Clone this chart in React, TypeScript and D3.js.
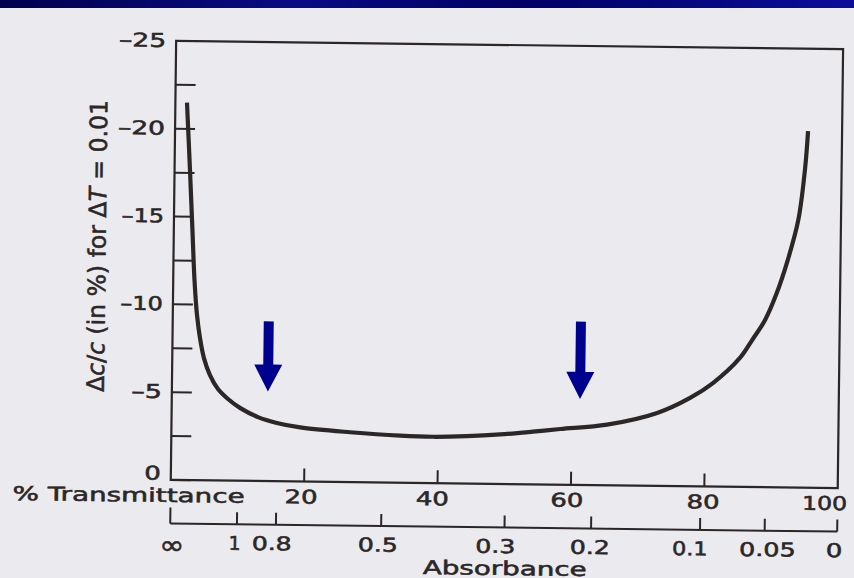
import React, { useEffect, useRef } from 'react';
import * as d3 from 'd3';

// curve: % transmittance vs relative concentration error (%)
const transmittance = [1.74, 2.31, 2.79, 3.19, 3.63, 4.12, 4.75, 5.68, 6.91, 8.43, 10.24, 12.95, 15.8, 19.3, 26.8, 34.3, 39.2, 44.3, 49.3, 54.2, 58.3, 65.3, 72.8, 77.7, 81.1, 85.1, 86.9, 88.8, 90.5, 92.1, 93.6, 94.5, 94.9];
const relError = [-21.5, -17.67, -14.25, -11.4, -9.41, -8.1, -6.96, -6.0, -5.21, -4.65, -4.15, -3.64, -3.32, -3.08, -2.84, -2.68, -2.64, -2.7, -2.82, -3.0, -3.17, -3.45, -4.15, -5.03, -5.89, -7.34, -8.37, -9.52, -11.06, -12.96, -15.24, -18.09, -20.31];

const yTicks = [0, -2.5, -5, -7.5, -10, -12.5, -15, -17.5, -20, -22.5];
const yLabels = [0, -5, -10, -15, -20, -25];
const tTicks = [20, 40, 60, 80, 100];
const tLabelShift = [-3, -5, -4, -1, -13];
const absTicks = [Infinity, 1, 0.8, 0.5, 0.3, 0.2, 0.1, 0.05, 0];
const absLabels = ['∞', '1', '0.8', '0.5', '0.3', '0.2', '0.1', '0.05', '0'];
const absLabelShift = [2, -2, -4, -3, -9, -1, -10, 3, -3];

// blue arrows: where they point (% T) and the error level of tip and tail
const arrowT = [14.4, 61.2];
const arrowTip = [-5.1, -4.9];
const arrowTail = [-9.1, -9.3];

// rough glyph widths of the wide face in the scan
const labelWidth = (s: string) =>
    s.split('').reduce((w, c) => w + (c === '.' ? 7 : c === '1' ? 12 : c === '–' ? 14 : 16.5), 0);

const App = () => {
    const svgRef = useRef<SVGSVGElement>(null);

    useEffect(() => {
        const svg = d3.select(svgRef.current);
        svg.selectAll('*').remove();

        const width = 854;
        const height = 578;
        const ink = '#2b2727';
        const font = "'DejaVu Sans', sans-serif";

        const x = d3.scaleLinear().domain([0, 100]).range([173, 840]);
        const y = d3.scaleLinear().domain([0, -25]).range([484, 45]);
        const absX = (a: number) => (a === Infinity ? x(0) : x(100 * Math.pow(10, -a)));
        const absY = 527.5;

        // page + slide band
        const defs = svg.append('defs');
        const grad = defs.append('linearGradient').attr('id', 'band').attr('x1', 0).attr('x2', 1);
        grad.append('stop').attr('offset', '0%').attr('stop-color', '#00004e');
        grad.append('stop').attr('offset', '35%').attr('stop-color', '#0a0a86');
        grad.append('stop').attr('offset', '60%').attr('stop-color', '#000066');
        grad.append('stop').attr('offset', '100%').attr('stop-color', '#0c0c9a');
        svg.append('rect').attr('width', width).attr('height', height).attr('fill', '#ebeaee');

        // the scanned page sits slightly askew
        const g = svg.append('g').attr('transform', 'rotate(0.7 505 300)');

        const txt = (sel: any) => sel
            .attr('font-family', font).attr('fill', ink)
            .attr('stroke', ink).attr('stroke-width', 0.55)
            .attr('lengthAdjust', 'spacingAndGlyphs');

        // frame
        g.append('rect')
            .attr('x', x(0)).attr('y', y(-25))
            .attr('width', x(100) - x(0)).attr('height', y(0) - y(-25))
            .attr('fill', 'none').attr('stroke', ink).attr('stroke-width', 2.2);

        // y ticks (inward) and labels
        g.append('g').selectAll('line').data(yTicks).join('line')
            .attr('x1', x(0)).attr('x2', x(0) + 20)
            .attr('y1', d => y(d)).attr('y2', d => y(d))
            .attr('stroke', ink).attr('stroke-width', 2);
        g.append('g').selectAll('text').data(yLabels).join('text')
            .call(txt)
            .attr('x', 163).attr('y', d => (d === 0 ? y(d) : y(d) + 6))
            .attr('text-anchor', 'end')
            .attr('font-size', 19)
            .attr('textLength', d => labelWidth(d === 0 ? '0' : '–' + Math.abs(d)))
            .text(d => (d === 0 ? '0' : '–' + Math.abs(d)));

        // y title
        const yt = g.append('text')
            .call(txt)
            .attr('transform', 'translate(105,251) rotate(-90)')
            .attr('text-anchor', 'middle')
            .attr('font-size', 24)
            .attr('textLength', 292);
        yt.append('tspan').text('Δ');
        yt.append('tspan').attr('font-style', 'italic').text('c');
        yt.append('tspan').text('/');
        yt.append('tspan').attr('font-style', 'italic').text('c');
        yt.append('tspan').text(' (in %) for Δ');
        yt.append('tspan').attr('font-style', 'italic').text('T');
        yt.append('tspan').text(' = 0.01');

        // transmittance ticks and labels
        g.append('g').selectAll('line').data(tTicks.filter(d => d < 100)).join('line')
            .attr('x1', d => x(d)).attr('x2', d => x(d))
            .attr('y1', y(0)).attr('y2', y(0) - 13)
            .attr('stroke', ink).attr('stroke-width', 2);
        g.append('g').selectAll('text').data(tTicks).join('text')
            .call(txt)
            .attr('x', (d, i) => x(d) + tLabelShift[i])
            .attr('y', 506)
            .attr('text-anchor', 'middle')
            .attr('font-size', 19)
            .attr('textLength', d => labelWidth(String(d)))
            .text(d => d);
        g.append('text')
            .call(txt)
            .attr('x', 15).attr('y', 506)
            .attr('font-size', 19)
            .attr('textLength', 232)
            .text('% Transmittance');

        // absorbance axis
        g.append('line')
            .attr('x1', x(0)).attr('x2', x(100)).attr('y1', absY).attr('y2', absY)
            .attr('stroke', ink).attr('stroke-width', 2);
        g.append('g').selectAll('line').data(absTicks).join('line')
            .attr('x1', d => absX(d)).attr('x2', d => absX(d))
            .attr('y1', absY).attr('y2', d => (d === Infinity ? absY - 16 : absY - 12))
            .attr('stroke', ink).attr('stroke-width', 2);
        g.append('g').selectAll('text').data(absTicks).join('text')
            .call(txt)
            .attr('x', (d, i) => absX(d) + absLabelShift[i])
            .attr('y', (d, i) => (i === 0 ? 558 : 553))
            .attr('text-anchor', 'middle')
            .attr('font-size', (d, i) => (i === 0 ? 26 : 19))
            .attr('textLength', (d, i) => (i === 0 ? 25 : labelWidth(absLabels[i])))
            .text((d, i) => absLabels[i]);
        g.append('text')
            .call(txt)
            .attr('x', 508).attr('y', 575)
            .attr('text-anchor', 'middle')
            .attr('font-size', 19)
            .attr('textLength', 164)
            .text('Absorbance');

        // the error curve
        const line = d3.line<number>()
            .x((d, i) => x(transmittance[i]))
            .y(d => y(d))
            .curve(d3.curveCatmullRom.alpha(0.5));
        g.append('path')
            .datum(relError)
            .attr('d', line)
            .attr('fill', 'none').attr('stroke', ink).attr('stroke-width', 4.2);

        // blue arrows
        const arrows = g.append('g').attr('fill', '#00008f');
        arrowT.forEach((t, i) => {
            const cx = x(t);
            const tip = y(arrowTip[i]);
            const top = y(arrowTail[i]);
            arrows.append('path')
                .attr('d', `M${cx - 5},${top} H${cx + 5} V${tip - 27} H${cx + 14} L${cx},${tip} L${cx - 14},${tip - 27} H${cx - 5} Z`);
        });

        // slide header band on top of everything
        svg.append('rect').attr('width', width).attr('height', 8).attr('fill', 'url(#band)');
    }, []);

    return (
        <svg ref={svgRef} width={854} height={578}
            style={{ position: 'absolute', left: 0, top: 0, display: 'block' }} />
    );
};

export default App;
